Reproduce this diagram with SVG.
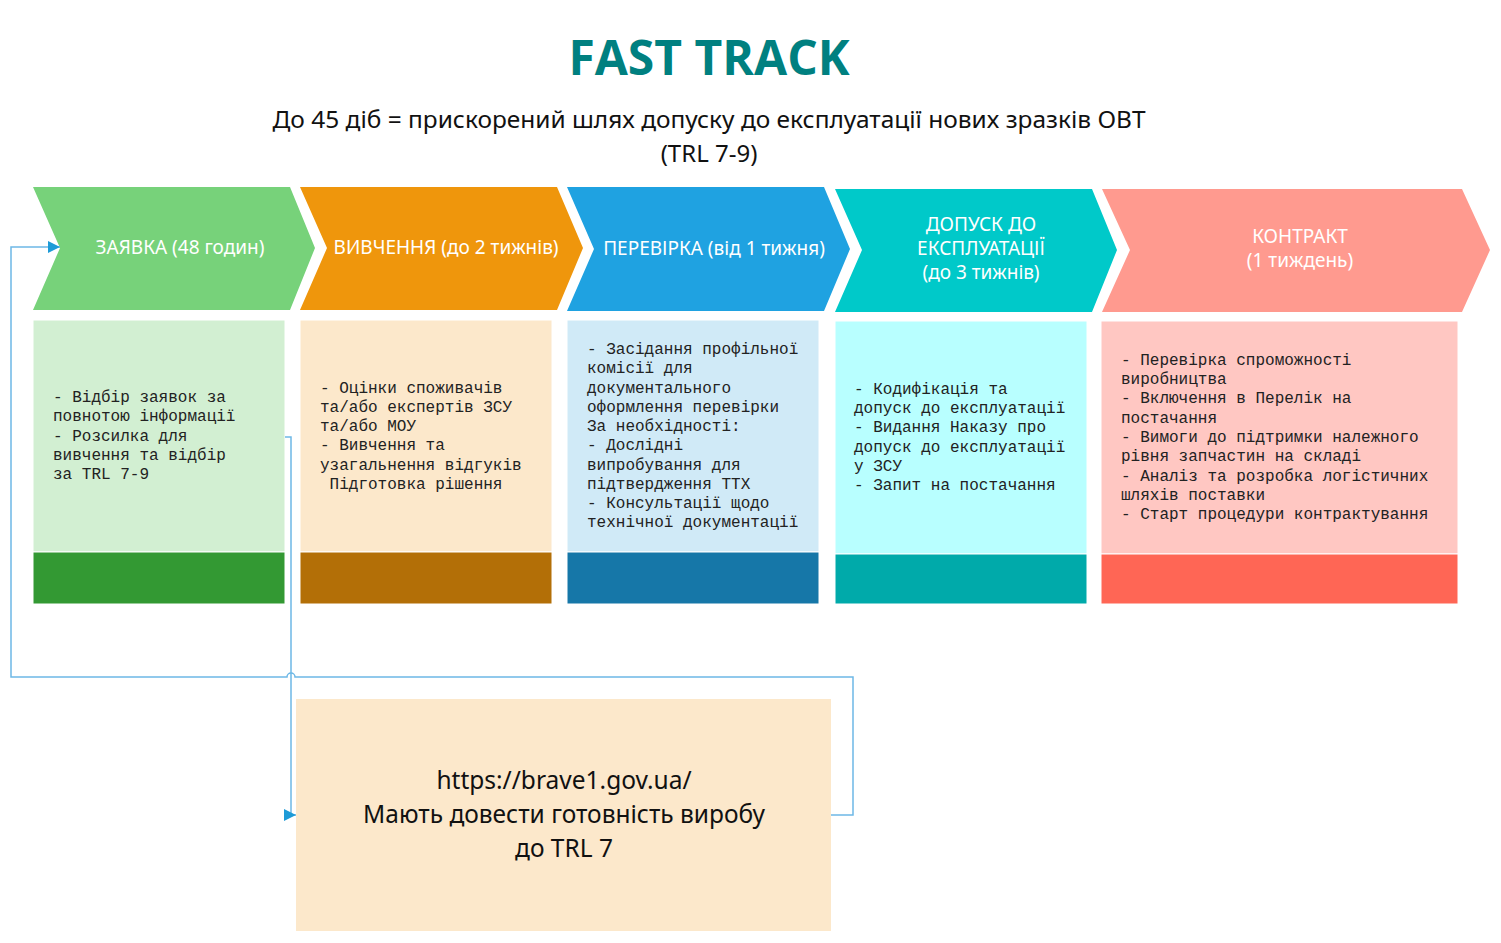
<svg xmlns="http://www.w3.org/2000/svg" width="1501" height="943" viewBox="0 0 1501 943">
  <style>
    .title { font-family: "Open Sans", "Noto Sans", "DejaVu Sans", sans-serif; font-weight: 700; font-size: 48px; fill: #008080; }
    .sub { font-family: "Noto Sans", "Open Sans", "DejaVu Sans", sans-serif; font-size: 24px; fill: #111; }
    .chev { font-family: "Noto Sans", "Open Sans", "DejaVu Sans", sans-serif; font-size: 19px; fill: #ffffff; text-anchor: middle; }
    .mono { font-family: "Liberation Mono", "Courier New", monospace; font-size: 16px; fill: #222; white-space: pre; }
    .big { font-family: "Noto Sans", "Open Sans", "DejaVu Sans", sans-serif; font-size: 24.5px; fill: #111; text-anchor: middle; }
    .card { stroke: #ffffff; stroke-width: 1; }
    .link { fill: none; stroke: #6EB8E6; stroke-width: 1.5; }
  </style>
  <defs>
    <marker id="arrow" viewBox="0 0 10 10" refX="10" refY="5" markerWidth="12" markerHeight="12" markerUnits="userSpaceOnUse" orient="auto">
      <path d="M0,0 L10,5 L0,10 Z" fill="#1E9BD7"/>
    </marker>
  </defs>

  <rect width="1501" height="943" fill="#ffffff"/>

  <!-- heading -->
  <text class="title" x="709" y="75" text-anchor="middle">FAST TRACK</text>
  <text class="sub" x="709" y="128" text-anchor="middle" textLength="873" lengthAdjust="spacingAndGlyphs">До 45 діб = прискорений шлях допуску до експлуатації нових зразків ОВТ</text>
  <text class="sub" x="709" y="162" text-anchor="middle">(TRL 7-9)</text>

  <!-- stage 1 -->
  <g id="stage-zayavka">
    <polygon points="33,187 290,187 315,248 290,310 33,310 60,248" fill="#77D27A"/>
    <text class="chev" x="180" y="254">ЗАЯВКА (48 годин)</text>
    <rect class="card" x="33" y="320" width="252" height="232" fill="#D2EFD2"/>
    <rect class="card" x="33" y="552" width="252" height="52" fill="#339933"/>
    <text class="mono" x="53" y="402">- Відбір заявок за</text>
    <text class="mono" x="53" y="421">повнотою інформації</text>
    <text class="mono" x="53" y="441">- Розсилка для</text>
    <text class="mono" x="53" y="460">вивчення та відбір</text>
    <text class="mono" x="53" y="479">за TRL 7-9</text>
  </g>

  <!-- stage 2 -->
  <g id="stage-vyvchennia">
    <polygon points="300,187 557,187 583,248 557,310 300,310 327,248" fill="#EF960C"/>
    <text class="chev" x="446" y="254">ВИВЧЕННЯ (до 2 тижнів)</text>
    <rect class="card" x="300" y="320" width="252" height="232" fill="#FCE8CB"/>
    <rect class="card" x="300" y="552" width="252" height="52" fill="#B36F07"/>
    <text class="mono" x="320" y="393">- Оцінки споживачів</text>
    <text class="mono" x="320" y="412">та/або експертів ЗСУ</text>
    <text class="mono" x="320" y="431">та/або МОУ</text>
    <text class="mono" x="320" y="450">- Вивчення та</text>
    <text class="mono" x="320" y="470">узагальнення відгуків</text>
    <text class="mono" x="320" y="489"> Підготовка рішення</text>
  </g>

  <!-- stage 3 -->
  <g id="stage-perevirka">
    <polygon points="567,187 824,187 850,249 824,311 567,311 594,249" fill="#1FA2E1"/>
    <text class="chev" x="714" y="255">ПЕРЕВІРКА (від 1 тижня)</text>
    <rect class="card" x="567" y="320" width="252" height="232" fill="#D0EAF7"/>
    <rect class="card" x="567" y="552" width="252" height="52" fill="#1677A8"/>
    <text class="mono" x="587" y="354">- Засідання профільної</text>
    <text class="mono" x="587" y="373">комісії для</text>
    <text class="mono" x="587" y="393">документального</text>
    <text class="mono" x="587" y="412">оформлення перевірки</text>
    <text class="mono" x="587" y="431">За необхідності:</text>
    <text class="mono" x="587" y="450">- Дослідні</text>
    <text class="mono" x="587" y="470">випробування для</text>
    <text class="mono" x="587" y="489">підтвердження ТТХ</text>
    <text class="mono" x="587" y="508">- Консультації щодо</text>
    <text class="mono" x="587" y="527">технічної документації</text>
  </g>

  <!-- stage 4 -->
  <g id="stage-dopusk">
    <polygon points="835,189 1092,189 1117,250 1092,312 835,312 862,250" fill="#00C9C9"/>
    <text class="chev" x="981" y="231">ДОПУСК ДО</text>
    <text class="chev" x="981" y="255">ЕКСПЛУАТАЦІЇ</text>
    <text class="chev" x="981" y="279">(до 3 тижнів)</text>
    <rect class="card" x="835" y="321" width="252" height="233" fill="#B8FFFF"/>
    <rect class="card" x="835" y="554" width="252" height="50" fill="#00AAAA"/>
    <text class="mono" x="854" y="394">- Кодифікація та</text>
    <text class="mono" x="854" y="413">допуск до експлуатації</text>
    <text class="mono" x="854" y="432">- Видання Наказу про</text>
    <text class="mono" x="854" y="452">допуск до експлуатації</text>
    <text class="mono" x="854" y="471">у ЗСУ</text>
    <text class="mono" x="854" y="490">- Запит на постачання</text>
  </g>

  <!-- stage 5 -->
  <g id="stage-kontrakt">
    <polygon points="1102,189 1462,189 1490,250 1462,312 1102,312 1130,250" fill="#FF9A8F"/>
    <text class="chev" x="1300" y="243">КОНТРАКТ</text>
    <text class="chev" x="1300" y="267">(1 тиждень)</text>
    <rect class="card" x="1101" y="321" width="357" height="233" fill="#FFC7C2"/>
    <rect class="card" x="1101" y="554" width="357" height="50" fill="#FF6655"/>
    <text class="mono" x="1121" y="365">- Перевірка спроможності</text>
    <text class="mono" x="1121" y="384">виробництва</text>
    <text class="mono" x="1121" y="403">- Включення в Перелік на</text>
    <text class="mono" x="1121" y="423">постачання</text>
    <text class="mono" x="1121" y="442">- Вимоги до підтримки належного</text>
    <text class="mono" x="1121" y="461">рівня запчастин на складі</text>
    <text class="mono" x="1121" y="481">- Аналіз та розробка логістичних</text>
    <text class="mono" x="1121" y="500">шляхів поставки</text>
    <text class="mono" x="1121" y="519">- Старт процедури контрактування</text>
  </g>

  <!-- portal note -->
  <g id="portal">
    <rect x="296" y="699" width="535" height="232" fill="#FCE8CB"/>
    <text class="big" x="564" y="789">https://brave1.gov.ua/</text>
    <text class="big" x="564" y="823">Мають довести готовність виробу</text>
    <text class="big" x="564" y="857">до TRL 7</text>
  </g>

  <!-- connectors -->
  <g id="connectors">
    <!-- portal back to the application stage, hopping over the other line -->
    <path class="link" d="M831,815 H853 V677 H295 A4,4 0 0 0 287,677 H11 V247 H60" marker-end="url(#arrow)"/>
    <!-- application stage down to the portal -->
    <path class="link" d="M285,437 H291 V815 H296" marker-end="url(#arrow)"/>
  </g>
</svg>
